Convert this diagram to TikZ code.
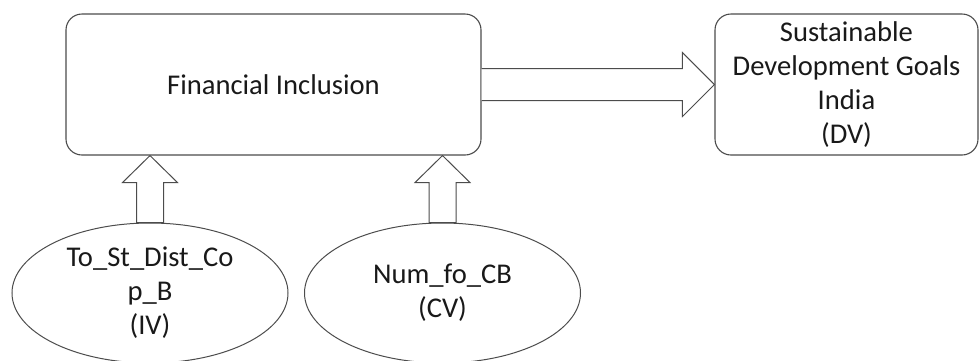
\documentclass[tikz,border=0pt]{standalone}
\usepackage{fontspec}
\setmainfont{Carlito}
\usetikzlibrary{shapes.geometric,calc}

\begin{document}
\begin{tikzpicture}[x=1pt,y=-1pt,
   every node/.style={font=\fontsize{28.6}{34}\selectfont, text=black!90},
   box/.style={draw=black!70, line width=1.1pt, rounded corners=16pt,
               minimum height=141pt, inner sep=0pt, align=center},
   oval/.style={draw=black!70, line width=1pt, ellipse, minimum width=276pt,
                minimum height=140pt, inner sep=0pt, align=center},
   fatarrow/.style={draw=black!70, line width=1pt, fill=white}]

\clip (0,0) rectangle (980,360);

\node[box, minimum width=415pt] (fi) at (273.5,84.5) {Financial Inclusion};
\node[box, minimum width=263pt] (sdg) at (846.5,84.5)
    {Sustainable\\Development Goals\\India\\(DV)};

\node[oval] (iv) at (150,293) {To\_St\_Dist\_Co\\p\_B\\(IV)};
\node[oval] (cv) at (442.5,293) {Num\_fo\_CB\\(CV)};

% wide arrow into the goals box
\draw[fatarrow] ([yshift=16]fi.east) -- ([xshift=-32,yshift=16]sdg.west)
    -- ([xshift=-32,yshift=32]sdg.west) -- (sdg.west)
    -- ([xshift=-32,yshift=-32]sdg.west) -- ([xshift=-32,yshift=-16]sdg.west)
    -- ([yshift=-16]fi.east);

% wide arrows from the two ovals
\foreach \v in {iv,cv}{
  \coordinate (\v tip) at (\v.north |- fi.south);
  \draw[fatarrow] ([xshift=-13.5]\v.north) -- ($(\v tip)+(-13.5,27)$)
      -- ($(\v tip)+(-27.5,27)$) -- (\v tip) -- ($(\v tip)+(27.5,27)$)
      -- ($(\v tip)+(13.5,27)$) -- ([xshift=13.5]\v.north) -- cycle;
}

\end{tikzpicture}
\end{document}
